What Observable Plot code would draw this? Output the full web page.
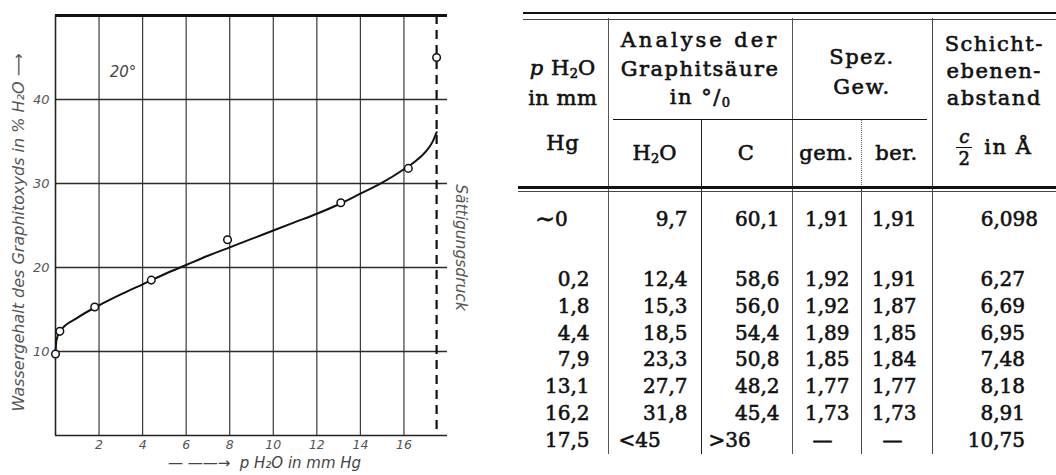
<!DOCTYPE html>
<html><head><meta charset="utf-8">
<script src="https://cdn.jsdelivr.net/npm/d3@7"></script>
<script src="https://cdn.jsdelivr.net/npm/@observablehq/plot@0.6"></script>
<style>
body{margin:0;width:1056px;height:475px;overflow:hidden;background:#fff;position:relative}
#chart{position:absolute;left:0;top:0}
#tbl{position:absolute;left:518px;top:0;width:538px;height:475px;overflow:hidden}
.hl{position:absolute;background:#111}
table{position:absolute;left:0;top:18px;border-collapse:collapse;table-layout:fixed;font-family:"DejaVu Serif";font-size:20px;color:#111;-webkit-text-stroke:0.6px #111}
td{padding:0;white-space:nowrap;overflow:hidden}
.hd{font-size:21px;letter-spacing:1.5px;vertical-align:top;text-align:center}
sub{font-size:13px;vertical-align:-3px;line-height:0;letter-spacing:0}
.b1{border-left:1.2px solid #555}
.b2{border-left:1.6px solid #222}
.b3{border-left:1.2px solid #555}
.b4{border-left:1px solid #444}
.b4d{border-left:1px dotted #666}
.b5{border-left:1.4px solid #444}
.num td{text-align:right;line-height:26.8px;height:26.8px}
.fr{display:flex;align-items:center;justify-content:center;gap:12px;margin-top:15px}
.frac{display:inline-block;text-align:center;font-size:18px;line-height:20px;letter-spacing:0}
.frac .top{border-bottom:1.5px solid #111;font-style:italic;padding:0 3px;margin-bottom:1px}
.tilde{font-size:24px;vertical-align:-1px}
</style></head>
<body>
<div id="chart"></div>
<div id="tbl"></div>
<script>
// ---- chart data ----
const pressure = [0, 0.2, 1.8, 4.4, 7.9, 13.1, 16.2, 17.5];          // p H2O in mm Hg
const water = [9.7, 12.4, 15.3, 18.5, 23.3, 27.7, 31.8, 45];        // H2O content in %
const curvePressure = [0, 0.04, 0.2, 1, 2, 3, 4, 5, 6, 7, 8, 9, 10, 11, 12, 13, 14, 15, 16, 16.5, 17, 17.3, 17.5];
const curveWater = [9.7, 11.3, 12.4, 14.0, 15.5, 16.8, 18.0, 19.2, 20.3, 21.4, 22.4, 23.4, 24.4, 25.4, 26.4, 27.5, 28.8, 30.1, 31.7, 32.6, 33.8, 34.9, 36.1];
const xTicks = [2, 4, 6, 8, 10, 12, 14, 16];
const yTicks = [10, 20, 30, 40];
const saturationPressure = 17.5;

// ---- table data ----
const carbon = ["60,1", "58,6", "56,0", "54,4", "50,8", "48,2", "45,4", "36"];
const densityMeasured = ["1,91", "1,92", "1,92", "1,89", "1,85", "1,77", "1,73", "—"];
const densityCalculated = ["1,91", "1,91", "1,87", "1,85", "1,84", "1,77", "1,73", "—"];
const layerSpacing = ["6,098", "6,27", "6,69", "6,95", "7,48", "8,18", "8,91", "10,75"];

const fmt = v => v.toFixed(1).replace(".", ",");
const pts = pressure.map((p, i) => ({p, w: water[i]}));
const curve = curvePressure.map((p, i) => ({p, w: curveWater[i]}));

const chart = Plot.plot({
  width: 480, height: 475,
  marginLeft: 55, marginRight: 33, marginTop: 15, marginBottom: 40,
  x: {domain: [0, 18]},
  y: {domain: [0, 50]},
  style: {fontFamily: "DejaVu Sans", fontStyle: "italic", color: "#555", background: "transparent", overflow: "visible"},
  marks: [
    Plot.ruleX(xTicks, {stroke: "#3a3a3a", strokeWidth: 1.2}),
    Plot.ruleY(yTicks, {stroke: "#2a2a2a", strokeWidth: 1.4}),
    Plot.ruleY([0], {stroke: "#222", strokeWidth: 1.6}),
    Plot.ruleY([50], {stroke: "#111", strokeWidth: 3}),
    Plot.ruleX([0], {stroke: "#222", strokeWidth: 1.6}),
    Plot.ruleX([saturationPressure], {stroke: "#111", strokeWidth: 2.2, strokeDasharray: "9,6"}),
    Plot.line(curve, {x: "p", y: "w", curve: "monotone-x", stroke: "#111", strokeWidth: 2}),
    Plot.dot(pts, {x: "p", y: "w", r: 3.8, fill: "white", stroke: "#111", strokeWidth: 1.5}),
    Plot.axisX({ticks: xTicks, tickSize: 0, tickPadding: 5, fontSize: 12.5, label: null}),
    Plot.axisY({ticks: yTicks, tickSize: 0, tickPadding: 6, fontSize: 13, label: null}),
    Plot.text(["20°"], {text: d => d, x: 3.1, y: 43.2, fontSize: 15, fill: "#444"}),
    Plot.text(["— ——→  p H₂O in mm Hg"], {text: d => d, frameAnchor: "bottom", textAnchor: "middle", dy: 32, dx: 13, fontSize: 15, fill: "#444"}),
    Plot.text(["Wassergehalt des Graphitoxyds in % H₂O ⟶"], {text: d => d, frameAnchor: "left", textAnchor: "middle", rotate: -90, dx: -37, dy: 7, fontSize: 16, fill: "#555"}),
    Plot.text(["Sättigungsdruck"], {text: d => d, frameAnchor: "right", textAnchor: "middle", rotate: 90, dx: 13, dy: 22, fontSize: 15.5, fill: "#555"})
  ]
});
document.getElementById("chart").append(chart);

// ---- table ----
const n = pressure.length;
const topStyle = "vertical-align:top;padding-top:14px;line-height:24px;height:59px;";
let rows = "";
for (let i = 0; i < n; i++) {
  const first = i === 0, last = i === n - 1;
  const s = first ? topStyle : "";
  const pCell = first ? `<td style="${s}text-align:left;padding-left:17px"><span class="tilde">∼</span>0</td>` : `<td style="padding-right:18px">${fmt(pressure[i])}</td>`;
  const wCell = last ? `<td class="b1" style="text-align:left;padding-left:10px">&lt;${water[i]}</td>` : `<td class="b1" style="${s}padding-right:13px">${fmt(water[i])}</td>`;
  const cCell = last ? `<td class="b2" style="text-align:left;padding-left:7px">&gt;${carbon[i]}</td>` : `<td class="b2" style="${s}padding-right:12px">${carbon[i]}</td>`;
  const gCell = last ? `<td class="b3" style="text-align:center;padding-right:8px">${densityMeasured[i]}</td>` : `<td class="b3" style="${s}padding-right:11px">${densityMeasured[i]}</td>`;
  const bCell = last ? `<td class="b4" style="text-align:center;padding-right:8px">${densityCalculated[i]}</td>` : `<td class="b4" style="${s}padding-right:15px">${densityCalculated[i]}</td>`;
  const sCell = `<td class="b5" style="${s}padding-right:${first ? 18 : 31}px">${layerSpacing[i]}</td>`;
  rows += `<tr class="num"${first ? ' style="height:73px"' : ""}>${pCell}${wCell}${cCell}${gCell}${bCell}${sCell}</tr>`;
}

document.getElementById("tbl").innerHTML = `
<div class="hl" style="left:5px;top:11.5px;width:533px;height:2.5px"></div>
<div class="hl" style="left:5px;top:18.5px;width:533px;height:1px;background:#444"></div>
<table>
<colgroup><col style="width:90px"><col style="width:93px"><col style="width:91px"><col style="width:69px"><col style="width:71px"><col style="width:124px"></colgroup>
<tr style="height:101px">
  <td rowspan="2" class="hd" style="padding-top:35px;line-height:30px;letter-spacing:0.5px"><i>p</i> H<sub>2</sub>O<br>in mm<div style="margin-top:15px">Hg</div></td>
  <td colspan="2" class="hd b1" style="padding-top:8px;line-height:28.5px"><span style="letter-spacing:3px">Analyse der</span><br>Graphitsäure<br>in °/<sub>0</sub></td>
  <td colspan="2" class="hd b3" style="padding-top:24px;line-height:30px">Spez.<br>Gew.</td>
  <td rowspan="2" class="hd b5" style="padding-top:12.5px;line-height:27px">Schicht-<br>ebenen-<br>abstand<div class="fr"><span class="frac"><div class="top">c</div><div>2</div></span><span>in Å</span></div></td>
</tr>
<tr style="height:68px">
  <td class="hd b1" style="vertical-align:middle;letter-spacing:0">H<sub>2</sub>O</td>
  <td class="hd b2" style="vertical-align:middle">C</td>
  <td class="hd b3" style="vertical-align:middle;letter-spacing:0.5px">gem.</td>
  <td class="hd b4d" style="vertical-align:middle;letter-spacing:0.5px">ber.</td>
</tr>
<tr style="height:6px"><td></td><td class="b1"></td><td class="b2"></td><td class="b3"></td><td class="b4"></td><td class="b5"></td></tr>
${rows}
</table>
<div class="hl" style="left:95px;top:118.5px;width:314px;height:1.5px"></div>
<div class="hl" style="left:0;top:186px;width:538px;height:2.5px"></div>
<div class="hl" style="left:0;top:190.5px;width:538px;height:1px;background:#444"></div>
`;
</script>
</body></html>
